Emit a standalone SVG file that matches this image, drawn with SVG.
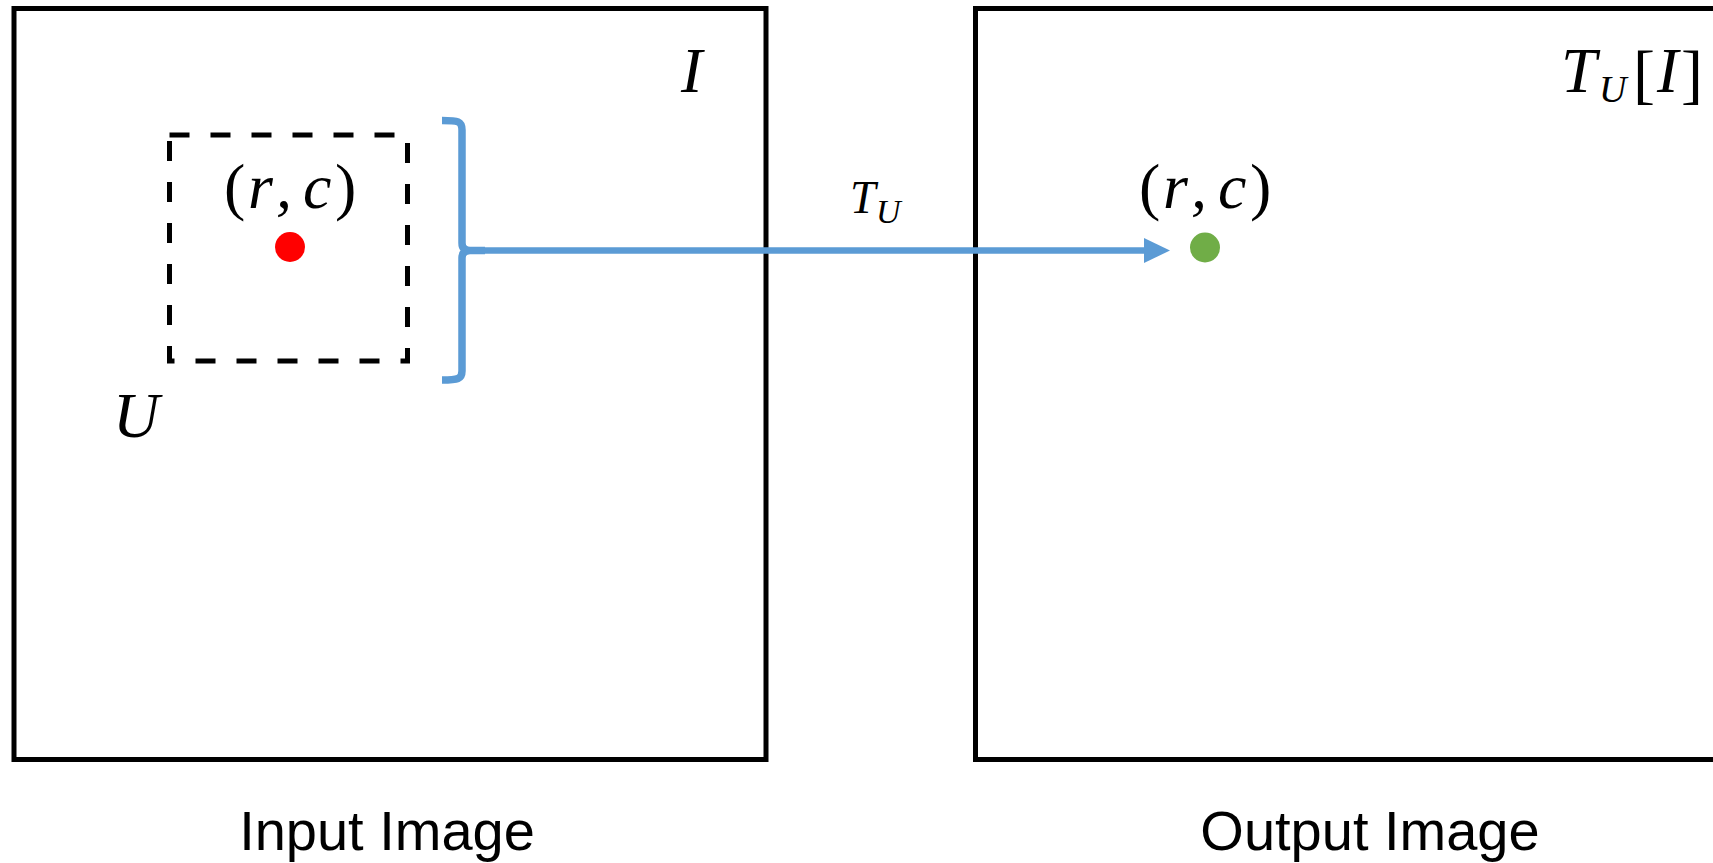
<svg xmlns="http://www.w3.org/2000/svg" width="1713" height="863" viewBox="0 0 1713 863">
<style>
.frame{fill:none;stroke:#000;stroke-width:5}
.dash{fill:none;stroke:#000;stroke-width:5;stroke-dasharray:20 21}
.blue{fill:none;stroke:#5B9BD5;stroke-width:7.5}
.math{font-family:"Liberation Serif","Times New Roman",serif;font-style:italic;fill:#000}
.up{font-style:normal}
.cap{font-family:"Liberation Sans",Arial,sans-serif;font-size:56px;fill:#000;text-anchor:middle}
</style>
<rect width="1713" height="863" fill="#fff"/>
<g id="input-image">
  <rect class="frame" x="14" y="8.5" width="752" height="751"/>
  <text class="math" x="681" y="92" font-size="64">I</text>
  <text class="cap" x="387" y="850">Input Image</text>
</g>
<g id="neighborhood-U">
  <rect class="dash" x="169.5" y="135" width="238" height="226"/>
  <text class="math" x="113" y="437" font-size="64">U</text>
</g>
<g id="input-pixel">
  <circle cx="290" cy="247" r="15" fill="#FF0000"/>
  <text class="math" font-size="64" y="208"><tspan class="up" x="224">(</tspan><tspan x="248">r</tspan><tspan x="276">,</tspan><tspan x="303">c</tspan><tspan class="up" x="335">)</tspan></text>
</g>
<g id="output-image">
  <rect class="frame" x="975.5" y="8.5" width="760" height="751"/>
  <text class="math" y="92" font-size="64"><tspan x="1561">T</tspan><tspan x="1599" y="102" font-size="38">U</tspan><tspan class="up" x="1633" y="96" font-size="66">[</tspan><tspan x="1657" y="92" font-size="64">I</tspan><tspan class="up" x="1681" y="96" font-size="66">]</tspan></text>
  <text class="cap" x="1370" y="850">Output Image</text>
</g>
<g id="output-pixel">
  <circle cx="1205" cy="247.5" r="15" fill="#70AD47"/>
  <text class="math" font-size="64" y="208"><tspan class="up" x="1139">(</tspan><tspan x="1163">r</tspan><tspan x="1191">,</tspan><tspan x="1218">c</tspan><tspan class="up" x="1250">)</tspan></text>
</g>
<g id="connectors">
  <path class="blue" d="M442,120.5 C458,120.5 462,121 462,130 L462,243 Q462,250.5 470,250.5 M442,380 C458,380 462,379 462,371 L462,258 Q462,250.5 470,250.5 L485,250.5"/>
  <line x1="470" y1="250.5" x2="1146" y2="250.5" stroke="#5B9BD5" stroke-width="6.5"/>
  <polygon points="1144,238 1170,250.5 1144,263" fill="#5B9BD5"/>
  <text class="math" y="213" font-size="46"><tspan x="850">T</tspan><tspan x="876" y="223" font-size="34">U</tspan></text>
</g>
</svg>
